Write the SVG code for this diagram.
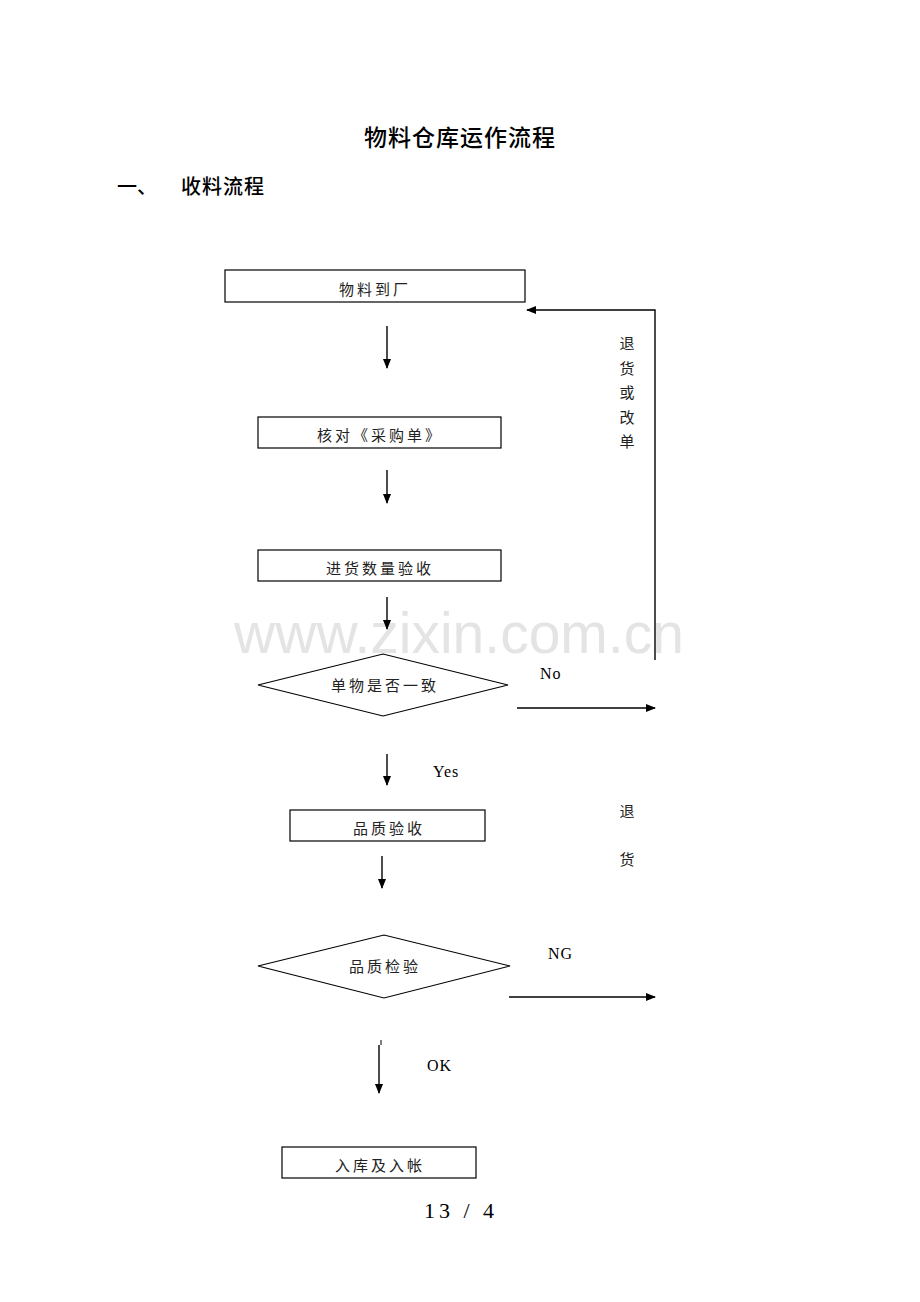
<svg xmlns="http://www.w3.org/2000/svg" width="920" height="1302" viewBox="0 0 920 1302">
<style>
.box{fill:#fff;stroke:#000;stroke-width:1.2}
.ln{stroke:#000;stroke-width:1.4;fill:none}
.t{font-family:"Noto Sans CJK SC","Noto Sans CJK JP",sans-serif;font-size:15px;fill:#222;text-anchor:middle;letter-spacing:3px}
.lbl{font-family:"Liberation Serif",serif;font-size:16px;fill:#000;letter-spacing:1px}
.side{font-family:"Noto Sans CJK SC",sans-serif;font-size:15px;fill:#222;text-anchor:middle}
</style>
<defs>
<marker id="ah" markerWidth="10" markerHeight="10" refX="9" refY="5" orient="auto" markerUnits="userSpaceOnUse">
<path d="M0,1 L10,5 L0,9 Z" fill="#000"/>
</marker>
</defs>
<rect width="920" height="1302" fill="#fff"/>
<text x="459" y="653" font-family="Liberation Sans,Arial,sans-serif" font-size="57" fill="#e4e4e4" text-anchor="middle">www.zixin.com.cn</text>
<text x="460" y="146" font-family="Noto Sans CJK SC,sans-serif" font-size="23" font-weight="500" text-anchor="middle" letter-spacing="1">物料仓库运作流程</text>
<text x="117" y="194" font-family="Noto Sans CJK SC,sans-serif" font-size="20" font-weight="500">一、</text>
<text x="181" y="194" font-family="Noto Sans CJK SC,sans-serif" font-size="20" font-weight="500" letter-spacing="1">收料流程</text>

<g id="connectors">
<line class="ln" x1="387" y1="326" x2="387" y2="368" marker-end="url(#ah)"/>
<line class="ln" x1="387" y1="470" x2="387" y2="503" marker-end="url(#ah)"/>
<line class="ln" x1="387" y1="597" x2="387" y2="629" marker-end="url(#ah)"/>
<line class="ln" x1="517" y1="708" x2="655" y2="708" marker-end="url(#ah)"/>
<polyline class="ln" points="655,660 655,310 527,310" marker-end="url(#ah)"/>
<line class="ln" x1="387" y1="754" x2="387" y2="785" marker-end="url(#ah)"/>
<line class="ln" x1="382" y1="856" x2="382" y2="888" marker-end="url(#ah)"/>
<line class="ln" x1="509" y1="997" x2="655" y2="997" marker-end="url(#ah)"/>
<line x1="381" y1="1040" x2="381" y2="1045" stroke="#000" stroke-width="1"/>
<line class="ln" x1="379" y1="1045" x2="379" y2="1093" marker-end="url(#ah)"/>
</g>

<g id="n1"><rect class="box" x="225" y="270" width="300" height="32"/><text class="t" x="375" y="295">物料到厂</text></g>
<g id="n2"><rect class="box" x="258" y="417" width="243" height="31"/><text class="t" x="380" y="441">核对《采购单》</text></g>
<g id="n3"><rect class="box" x="258" y="550" width="243" height="31"/><text class="t" x="380" y="574">进货数量验收</text></g>
<g id="d1"><polygon class="box" points="258,685 383,654 508,685 383,716"/><text class="t" x="385" y="691">单物是否一致</text></g>
<g id="n4"><rect class="box" x="290" y="810" width="195" height="31"/><text class="t" x="389" y="834">品质验收</text></g>
<g id="d2"><polygon class="box" points="258,966 384,935 510,966 384,998"/><text class="t" x="385" y="972">品质检验</text></g>
<g id="n5"><rect class="box" x="282" y="1147" width="194" height="31"/><text class="t" x="380" y="1171">入库及入帐</text></g>

<g id="labels">
<text class="lbl" x="540" y="679">No</text>
<text class="lbl" x="433" y="777">Yes</text>
<text class="lbl" x="548" y="959">NG</text>
<text class="lbl" x="427" y="1071">OK</text>
<text class="side" x="627" y="349">退</text>
<text class="side" x="627" y="374">货</text>
<text class="side" x="627" y="398">或</text>
<text class="side" x="627" y="423">改</text>
<text class="side" x="627" y="447">单</text>
<text class="side" x="627" y="817">退</text>
<text class="side" x="627" y="865">货</text>
</g>
<text x="461" y="1218" font-family="Liberation Serif,serif" font-size="22" text-anchor="middle" letter-spacing="4">13 / 4</text>
</svg>
